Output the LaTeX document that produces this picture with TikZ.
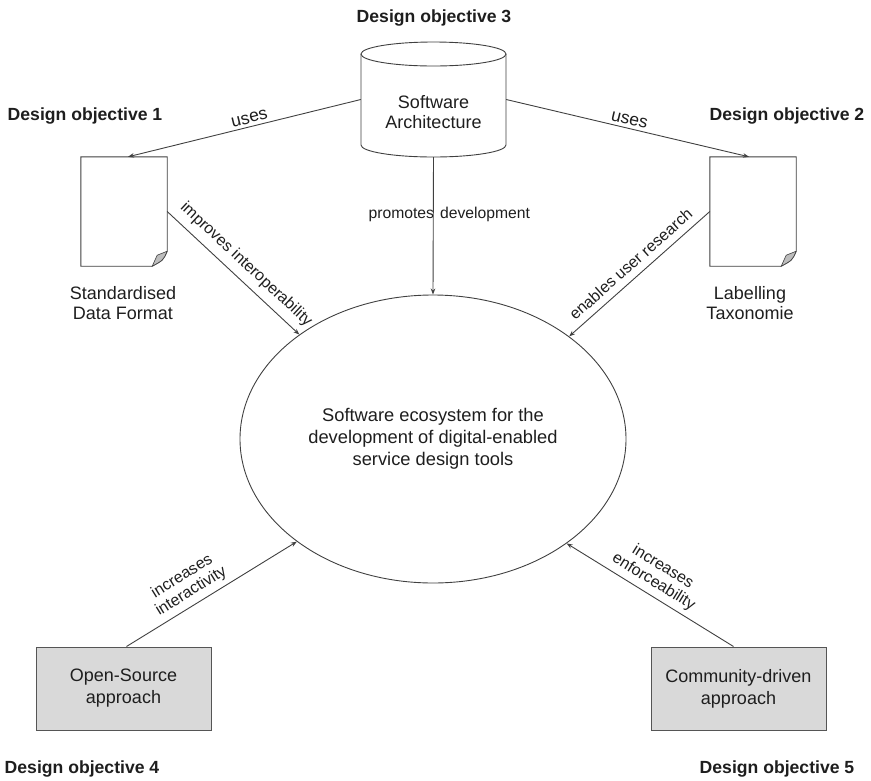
\documentclass[tikz,border=0pt]{standalone}
\usepackage{fontspec}
\setmainfont{Liberation Sans}
\usetikzlibrary{shapes.geometric,arrows.meta}
\definecolor{txt}{HTML}{1E1E1E}
\definecolor{ln}{HTML}{404040}
\definecolor{boxfill}{HTML}{D9D9D9}
\definecolor{boxline}{HTML}{555555}
\definecolor{foldfill}{HTML}{BDBDBD}
\begin{document}
\begin{tikzpicture}[x=1pt,y=-1pt,
  objtitle/.style={font=\bfseries\fontsize{17.6}{20}\selectfont, text=txt, inner sep=0pt},
  nodetext/.style={font=\fontsize{18}{20.5}\selectfont, text=txt, align=center, inner sep=0pt},
  edgelbl/.style={font=\fontsize{16}{17.5}\selectfont, text=txt, inner sep=2pt},
  conn/.style={draw=ln, line width=0.9pt, -{Stealth[length=6pt,width=4.5pt]}},
  shapeline/.style={draw=ln, line width=0.9pt},
  graybox/.style={draw=boxline, fill=boxfill, line width=1pt, minimum width=175pt, minimum height=83pt, font=\fontsize{18}{22}\selectfont, text=txt, align=center},
  docbox/.style={minimum width=86pt, minimum height=109pt, inner sep=0pt}
]
\useasboundingbox (0,0) rectangle (871,780);

% titles
\node[objtitle] (t1) at (85,116) {Design objective 1};
\node[objtitle] (t2) at (787,116) {Design objective 2};
\node[objtitle] (t3) at (434,18) {Design objective 3};
\node[objtitle] (t4) at (82,769) {Design objective 4};
\node[objtitle] (t5) at (777,769) {Design objective 5};

% cylinder
\node[minimum width=145pt, minimum height=115pt, inner sep=0pt] (arch) at (433.5,99.5) {};
\fill[white] (361,54) -- (361,145) arc[start angle=180, end angle=360, x radius=72.5pt, y radius=12pt] -- (506,54) -- cycle;
\draw[shapeline] (433.5,54) ellipse [x radius=72.5pt, y radius=12pt];
\draw[shapeline] (361,54) -- (361,145) arc[start angle=180, end angle=360, x radius=72.5pt, y radius=12pt] -- (506,54);
\node[nodetext] (archtext) at (433.5,112) {Software\\Architecture};

% documents
\node[docbox] (ldoc) at (124,211.5) {};
\node[docbox] (rdoc) at (753,211.5) {};
\foreach \d in {ldoc,rdoc}{
  \draw[shapeline, fill=white] (\d.north west) -- (\d.north east) -- ([yshift=15pt]\d.south east)
     .. controls ([xshift=-4pt,yshift=6pt]\d.south east) .. ([xshift=-15pt]\d.south east) -- (\d.south west) -- cycle;
  \draw[draw=ln, line width=0.6pt, fill=foldfill] ([yshift=15pt]\d.south east) -- ([xshift=-10pt,yshift=11pt]\d.south east) -- ([xshift=-15pt]\d.south east)
     .. controls ([xshift=-4pt,yshift=6pt]\d.south east) .. ([yshift=15pt]\d.south east);
}
\node[nodetext] (ldoctext) at (123,303) {Standardised\\Data Format};
\node[nodetext] (rdoctext) at (750,303) {Labelling\\Taxonomie};

% central ellipse
\node[ellipse, draw=ln, line width=0.9pt, minimum width=386pt, minimum height=288pt, inner sep=0pt,
  font=\fontsize{18.3}{22}\selectfont, text=txt, align=center] (eco) at (433,439)
  {Software ecosystem for the\\development of digital-enabled\\service design tools};

% gray boxes
\node[graybox] (lbox) at (123.5,688.5) {Open-Source\\approach};
\node[graybox] (rbox) at (738.5,688.5) {Community-driven\\approach};

% connectors
\draw[conn] (arch.west) -- node[edgelbl, sloped, above=1pt, pos=0.47, font=\fontsize{17.5}{19}\selectfont] (luses) {uses} ([xshift=4pt]ldoc.north);
\draw[conn] (arch.east) -- node[edgelbl, sloped, above=1pt, pos=0.5, font=\fontsize{17.5}{19}\selectfont] (ruses) {uses} ([xshift=-4pt]rdoc.north);
\draw[conn] (arch.south) -- coordinate[pos=0.4] (pdmid) (eco.north);
\node[edgelbl, font=\fontsize{15.7}{17}\selectfont] (pd) at ([xshift=16pt,yshift=-2pt]pdmid) {promotes\hspace{6pt}development};
\draw[conn] (ldoc.east) -- node[edgelbl, sloped, above=5pt, pos=0.52] (io) {improves interoperability} (eco.142.4);
\draw[conn] (rdoc.west) -- node[edgelbl, sloped, above=5pt, pos=0.5] (ur) {enables user research} (eco.37.6);
\draw[conn] ([xshift=3pt]lbox.north) -- node[edgelbl, sloped, above=4pt, pos=0.42, align=center, inner sep=1pt] (ia) {increases\\interactivity} (eco.217.6);
\draw[conn] ([xshift=-5pt]rbox.north) -- node[edgelbl, sloped, above=4pt, pos=0.52, align=center, inner sep=1pt] (ie) {increases\\enforceability} (eco.322.4);
\end{tikzpicture}
\end{document}
